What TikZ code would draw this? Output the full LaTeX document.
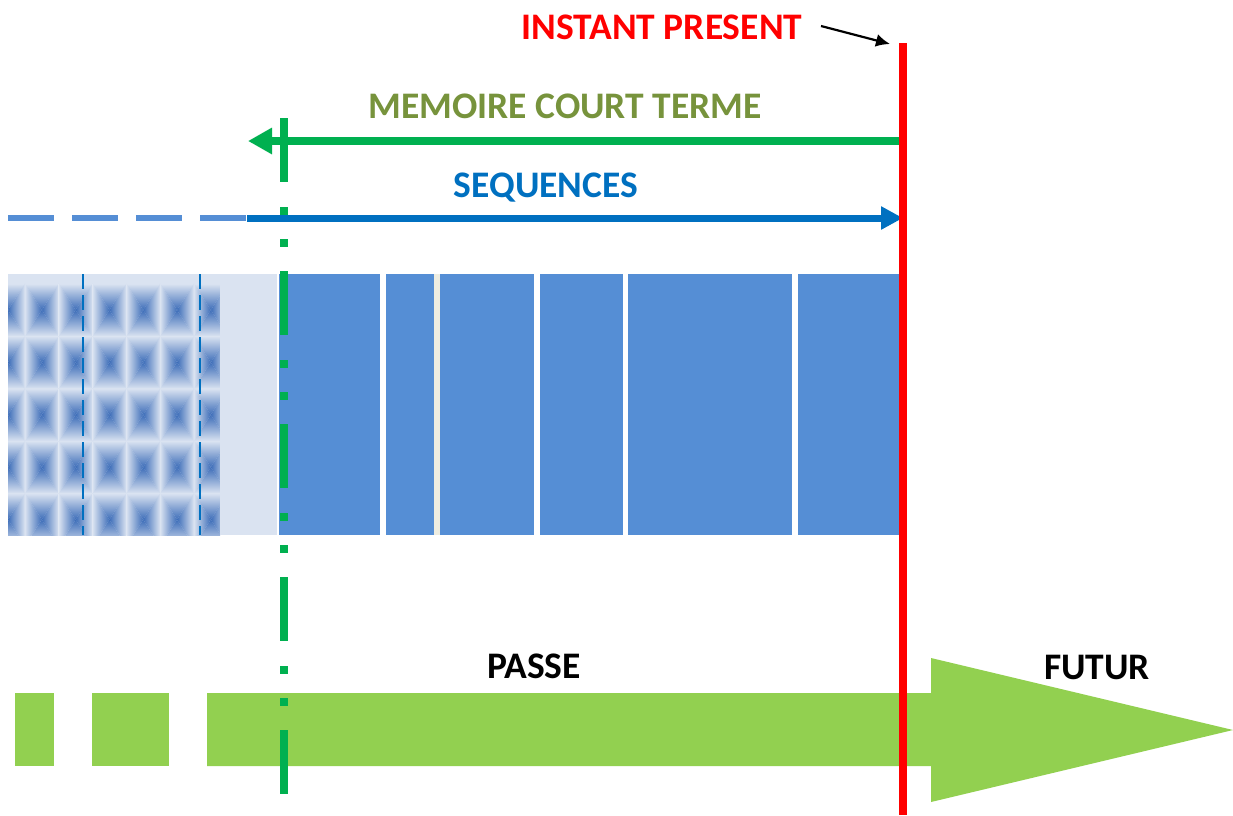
\documentclass[tikz,border=0pt]{standalone}
\usepackage{fontspec}
\setmainfont{Carlito}
\usetikzlibrary{arrows.meta}
\definecolor{barblue}{HTML}{558ED5}
\definecolor{lightcell}{HTML}{DAE3F1}
\definecolor{darkcell}{HTML}{3E6EB9}
\definecolor{seqblue}{HTML}{0070C0}
\definecolor{gline}{HTML}{00B050}
\definecolor{olive}{HTML}{77933C}
\definecolor{biggreen}{HTML}{92D050}
\definecolor{cream}{HTML}{EEEDE1}
\begin{document}
\begin{tikzpicture}[x=1pt,y=-1pt,
  lbl/.style={font=\fontsize{37.5}{42}\selectfont\bfseries, inner sep=0pt, anchor=base},
  gap/.style={fill=white}]
\useasboundingbox (0,0) rectangle (1233,815);
\fill[white] (0,0) rectangle (1233,815);

% big green time arrow
\fill[biggreen] (207,693) -- (931,693) -- (931,658) -- (1233,730) -- (931,802) -- (931,766) -- (207,766) -- cycle;
\fill[biggreen] (15,693) rectangle (54,766);
\fill[biggreen] (92,693) rectangle (169,766);

% patterned (old) memory
\begin{scope}
\clip (8,274) rectangle (220,535);
\fill[lightcell] (8,274) rectangle (220,535);
\foreach \i in {0,...,6} {
 \foreach \j in {0,...,4} {
  \pgfmathsetmacro\cx{8+33.8*\i}
  \pgfmathsetmacro\cy{310+52.4*\j}
  \shade[top color=lightcell, bottom color=darkcell] (\cx-16.9,\cy-26.2) -- (\cx+16.9,\cy-26.2) -- (\cx,\cy) -- cycle;
  \shade[top color=darkcell, bottom color=lightcell] (\cx-16.9,\cy+26.2) -- (\cx+16.9,\cy+26.2) -- (\cx,\cy) -- cycle;
  \shade[left color=lightcell, right color=darkcell] (\cx-16.9,\cy-26.2) -- (\cx-16.9,\cy+26.2) -- (\cx,\cy) -- cycle;
  \shade[left color=darkcell, right color=lightcell] (\cx+16.9,\cy-26.2) -- (\cx+16.9,\cy+26.2) -- (\cx,\cy) -- cycle;
 }
}
\end{scope}
\draw[seqblue, line width=2pt, dash pattern=on 15pt off 6pt] (83,274) -- (83,535);
\draw[seqblue, line width=2pt, dash pattern=on 15pt off 6pt] (200,274) -- (200,535);

% light and blue sequence bar
\fill[lightcell] (220,274) rectangle (277,535);
\fill[barblue] (279,274) rectangle (899,535);
\fill[gap] (380,274) rectangle (386,535);
\fill[cream] (434,274) rectangle (440,535);
\fill[gap] (534,274) rectangle (540,535);
\fill[gap] (623,274) rectangle (628,535);
\fill[gap] (792,274) rectangle (798,535);

% named coordinates
\coordinate (gtop) at (284,118);
\coordinate (gbot) at (284,815);
\coordinate (rtop) at (903,43);
\coordinate (rbot) at (903,815);
\coordinate (mstart) at (903,141);
\coordinate (mend) at (248,141);
\coordinate (dstart) at (8,218);
\coordinate (sstart) at (247,218);
\coordinate (send) at (903,218);
\coordinate (astart) at (821,26);
\coordinate (aend) at (890,44);

% green dash-dot limit of short term memory
\draw[gline, line width=8pt, dash pattern=on 64pt off 25pt on 8pt off 24pt on 8pt off 24pt] (gtop) -- (gbot);

% arrows
\draw[barblue, line width=5.7pt, dash pattern=on 46pt off 18pt] (dstart) -- (sstart);
\draw[seqblue, line width=7pt, -{Triangle[length=22pt,width=22pt]}] (sstart) -- (send);
\draw[gline, line width=8pt, -{Triangle[length=24pt,width=25pt]}] (mstart) -- (mend);
\draw[red, line width=7.5pt] (rtop) -- (rbot);
\draw[black, line width=2.2pt, -{Latex[length=14pt,width=13pt]}] (astart) -- (aend);

% labels
\node[lbl, text=red] (instant) at (662,39) {INSTANT PRESENT};
\node[lbl, text=olive] (memoire) at (565,118) {MEMOIRE COURT TERME};
\node[lbl, text=seqblue] (seq) at (546,197) {SEQUENCES};
\node[lbl, text=black] (passe) at (534,678) {PASSE};
\node[lbl, text=black] (futur) at (1097,679) {FUTUR};
\end{tikzpicture}
\end{document}
